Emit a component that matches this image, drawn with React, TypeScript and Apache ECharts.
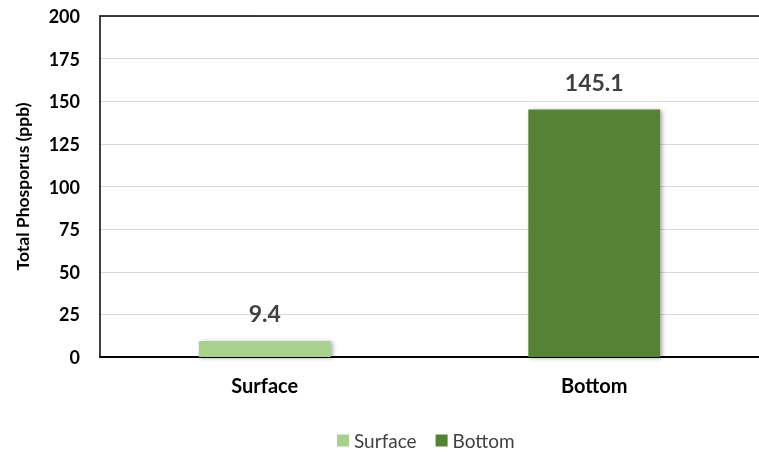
import React, { useEffect, useRef } from "react";
import * as echarts from "echarts";

const categories = ["Surface", "Bottom"];
const seriesNames = ["Surface", "Bottom"];
const surfaceValues = [9.4, null];
const bottomValues = [null, 145.1];
const yTicks = { min: 0, max: 200, interval: 25 };
const yAxisTitle = "Total Phosporus (ppb)";
const chartTitle = "Surface vs. Bottom Depth Total Phosphorus (August 5, 2019)";

const FONT = "Lato, 'Open Sans', sans-serif";

export default function App() {
  const ref = useRef<HTMLDivElement>(null);
  useEffect(() => {
    if (!ref.current) return;
    const chart = echarts.init(ref.current, undefined, { renderer: "svg" });
    const barStyle = (color: string) => ({
      color,
      shadowBlur: 4,
      shadowColor: "rgba(0,0,0,0.35)",
      shadowOffsetX: 2,
      shadowOffsetY: 1,
    });
    const label = {
      show: true,
      position: "top" as const,
      distance: 16,
      fontFamily: FONT,
      fontWeight: "bold" as const,
      fontSize: 23,
      color: "#404040",
      formatter: (p: any) => (p.value == null ? "" : String(p.value)),
    };
    chart.setOption({
      animation: false,
      textStyle: { fontFamily: FONT },
      graphic: [
        {
          type: "text",
          right: 12,
          top: -32,
          style: {
            text: chartTitle,
            fontFamily: FONT,
            fontWeight: "bold",
            fontSize: 30,
            fill: "#000",
          },
        },
      ],
      grid: { left: 100, right: 0, top: 16, bottom: 95, containLabel: false },
      legend: {
        data: seriesNames,
        top: 431,
        left: 337,
        padding: 0,
        itemWidth: 12,
        itemHeight: 12,
        itemGap: 19,
        icon: "rect",
        textStyle: { fontFamily: FONT, fontSize: 19, color: "#404040" },
      },
      xAxis: [
        {
          type: "category",
          data: categories,
          axisLine: { show: true, lineStyle: { color: "#000", width: 2 } },
          axisTick: { show: false },
          axisLabel: {
            fontFamily: FONT,
            fontWeight: "bold",
            fontSize: 20,
            color: "#000",
            margin: 18,
          },
        },
        {
          type: "category",
          data: categories,
          position: "top",
          axisLine: { show: true, lineStyle: { color: "#000", width: 1.5 } },
          axisTick: { show: false },
          axisLabel: { show: false },
        },
      ],
      yAxis: {
        type: "value",
        min: yTicks.min,
        max: yTicks.max,
        interval: yTicks.interval,
        name: yAxisTitle,
        nameLocation: "middle",
        nameGap: 69,
        nameTextStyle: { fontFamily: FONT, fontWeight: "bold", fontSize: 17.5, color: "#000" },
        axisLine: { show: true, lineStyle: { color: "#000", width: 1.5 } },
        axisTick: { show: false },
        axisLabel: { fontFamily: FONT, fontWeight: "bold", fontSize: 18, color: "#000", margin: 20 },
        splitLine: { lineStyle: { color: "#d9d9d9", width: 1 } },
      },
      series: [
        {
          name: seriesNames[0],
          type: "bar",
          stack: "tp",
          barWidth: "40%",
          data: surfaceValues,
          itemStyle: barStyle("#a9d18e"),
          label,
        },
        {
          name: seriesNames[1],
          type: "bar",
          stack: "tp",
          barWidth: "40%",
          data: bottomValues,
          itemStyle: barStyle("#548235"),
          label,
        },
      ],
    });
    return () => chart.dispose();
  }, []);
  return (
    <div
      ref={ref}
      style={{ position: "fixed", left: 0, top: 0, width: 759, height: 452 }}
    />
  );
}
